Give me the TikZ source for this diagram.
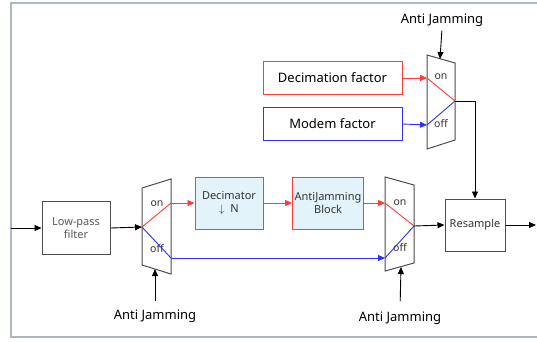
\documentclass[tikz,border=0pt]{standalone}
\usepackage{fontspec}
\setmainfont{Noto Sans}
\usetikzlibrary{arrows.meta,positioning}
\definecolor{framegray}{HTML}{AEB6C5}
\definecolor{lightcyan}{HTML}{E2F4F9}
\definecolor{onred}{HTML}{FF3B3B}
\definecolor{offblue}{HTML}{3030FF}
\tikzset{
	block/.style={draw=black!70, line width=1pt, text=black!80, align=center,
			font=\fontsize{11}{13}\selectfont, inner sep=2pt},
	redblock/.style={block, draw=onred, fill=lightcyan},
	factor/.style={draw=#1, line width=1pt, minimum width=139pt, minimum height=33pt,
			font=\fontsize{13}{15}\selectfont},
	ajlabel/.style={font=\fontsize{13}{15}\selectfont, inner sep=2pt},
	swlabel/.style={font=\fontsize{10.5}{12}\selectfont, text=black!80, inner sep=0pt},
	mux/.style={draw=black!70, line width=1pt},
	arr/.style={-{Triangle[length=7pt,width=6pt]}, line width=0.9pt},
	wire/.style={line width=0.9pt}
}

\begin{document}
\begin{tikzpicture}[x=1pt, y=-1pt]
\useasboundingbox (0,0) rectangle (537,341);
% Frame
\draw[framegray, line width=1.2pt] (537,3) -- (11,3) -- (11,337) -- (537,337);
% Blocks
\node[block, minimum width=68pt, minimum height=53pt, text=black!65] (lpf) at (76,228) {Low-pass\\filter};
\node[redblock, minimum width=68pt, minimum height=52pt] (dec) at (229,203) {Decimator\\$\downarrow$\ \ N};
\node[redblock, minimum width=68pt, minimum height=52pt] (ajb) at (328,203) {AntiJamming\\Block};
\node[block, minimum width=60pt, minimum height=52pt] (res) at (475,225) {Resample};
\node[factor=onred] (decf) at (332.5,78) {Decimation factor};
\node[factor=offblue] (modf) at (332.5,124) {Modem factor};
% Anti Jamming labels
\node[ajlabel] (ajtop) at (442,20) {Anti Jamming};
\node[ajlabel] (ajleft) at (155,316) {Anti Jamming};
\node[ajlabel] (ajright) at (400,318) {Anti Jamming};
% Switches
\draw[mux] (142,188) -- (171,179) -- (171,274) -- (142,265) -- cycle;
\draw[mux] (385,177) -- (414,185) -- (414,263) -- (385,271) -- cycle;
\draw[mux] (427,55) -- (455,63) -- (455,140) -- (427,149) -- cycle;
\coordinate (m1in) at (142,227);
\coordinate (m1on) at (171,203);
\coordinate (m1off) at (171,258);
\coordinate (m1sel) at (155,269);
\coordinate (m3on) at (385,203);
\coordinate (m3off) at (385,258);
\coordinate (m3out) at (414,226);
\coordinate (m3sel) at (401,267);
\coordinate (m2on) at (427,78);
\coordinate (m2off) at (427,125);
\coordinate (m2out) at (455,101);
\coordinate (m2sel) at (440,59);
\coordinate (src) at (11,228);
\coordinate (sink) at (536,225);
\foreach \n/\x/\y/\t in {a/157/204/on, b/157/249/off, c/400/203/on, d/400/248/off, e/441/77/on, f/441/124/off}
	\node[swlabel] (sw\n) at (\x,\y) {\t};
% Signal path
\draw[arr] (src) -- (lpf.west);
\draw[arr] (lpf.east) -- (m1in);
\draw[wire, onred] (m1in) -- (m1on);
\draw[wire, offblue] (m1in) -- (m1off);
\draw[arr, onred] (m1on) -- (dec.west);
\draw[arr, onred] (dec.east) -- (ajb.west);
\draw[arr, onred] (ajb.east) -- (m3on);
\draw[arr, offblue] (m1off) -- (m3off);
\draw[wire, onred] (m3on) -- (m3out);
\draw[wire, offblue] (m3off) -- (m3out);
\draw[arr] (m3out) -- (res.west);
\draw[arr] (res.east) -- (sink);
% Factor selection
\draw[arr, onred] (decf.east) -- (m2on);
\draw[arr, offblue] (modf.east) -- (m2off);
\draw[wire, onred] (m2on) -- (m2out);
\draw[wire, offblue] (m2off) -- (m2out);
\draw[arr] (m2out) -| (res.north);
% Control inputs
\draw[arr, shorten <=2pt] (ajtop.south) -- (m2sel);
\draw[arr, shorten <=6pt] (ajleft.north) -- (m1sel);
\draw[arr, shorten <=8pt] (ajright.north) -- (m3sel);
\end{tikzpicture}
\end{document}
